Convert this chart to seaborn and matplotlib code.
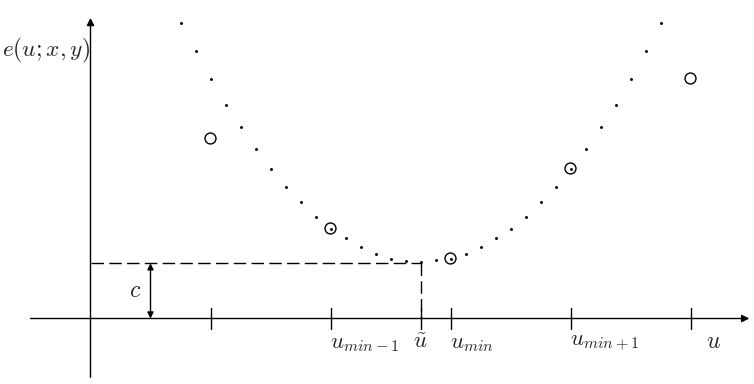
import matplotlib
matplotlib.use("Agg")
import matplotlib.pyplot as plt
import seaborn as sns
import pandas as pd

# ---- data (u in tick units, e in the same units) ----
curve_u = [0.750, 0.875, 1.000, 1.125, 1.250, 1.375, 1.500, 1.625, 1.750, 1.875,
           2.000, 2.125, 2.250, 2.375, 2.500, 2.625, 2.750, 2.875, 3.000, 3.125,
           3.250, 3.375, 3.500, 3.625, 3.750, 3.875, 4.000, 4.125, 4.250, 4.375,
           4.500, 4.625, 4.750]
curve_e = [2.46, 2.23, 2.00, 1.78, 1.60, 1.41, 1.25, 1.10, 0.97, 0.85,
           0.75, 0.67, 0.60, 0.54, 0.50, 0.48, 0.47, 0.49, 0.50, 0.54,
           0.60, 0.67, 0.75, 0.85, 0.97, 1.10, 1.25, 1.41, 1.60, 1.78,
           2.00, 2.23, 2.46]
sample_u = [2.0, 3.0, 4.0]
sample_e = [0.75, 0.50, 1.25]
obs_u = [1.0, 5.0]
obs_e = [1.50, 2.00]
tick_u = [1.0, 2.0, 2.75, 3.0, 4.0, 5.0]
label_u = [2.0, 2.75, 3.0, 4.0]
label_text = [r"$u_{min-1}$", r"$\tilde{u}$", r"$u_{min}$", r"$u_{min+1}$"]
label_ha = ["left", "center", "left", "left"]
u_tilde = 2.75
c_level = 0.46
c_arrow_u = 0.5

sns.set_theme(style="white")
plt.rcParams["mathtext.fontset"] = "cm"
plt.rcParams["font.family"] = ["DejaVu Sans"]

W, H = 754, 384
fig = plt.figure(figsize=(W / 100, H / 100), dpi=100)
ax = fig.add_axes([0, 0, 1, 1])
ox, oy, sc = 90.5, 318.5, 120.0

lw = 1.0
k = "black"
# axes with arrows
ax.annotate("", xy=(5.49, 0), xytext=(-0.5, 0),
            arrowprops=dict(arrowstyle="-|>", color=k, lw=lw, mutation_scale=11,
                            shrinkA=0, shrinkB=0))
ax.annotate("", xy=(0, 2.505), xytext=(0, -0.49),
            arrowprops=dict(arrowstyle="-|>", color=k, lw=lw, mutation_scale=11,
                            shrinkA=0, shrinkB=0))

# ticks
tick_half = 10.5 / sc
for t in tick_u:
    ax.plot([t, t], [-tick_half, tick_half], color=k, lw=lw)

# dashed guides
ax.plot([0, u_tilde], [c_level, c_level], color=k, lw=lw, dashes=(9.0, 3.8))
ax.plot([u_tilde, u_tilde], [c_level, 0], color=k, lw=lw, dashes=(9.0, 3.8))

# c arrow
ax.annotate("", xy=(c_arrow_u, c_level), xytext=(c_arrow_u, 0),
            arrowprops=dict(arrowstyle="<|-|>", color=k, lw=lw, mutation_scale=9,
                            shrinkA=0, shrinkB=0))
ax.text(c_arrow_u - 0.125, c_level / 2 + 0.01, r"$c$", ha="center", va="center",
        fontsize=17)

# data marks
df_curve = pd.DataFrame({"u": curve_u, "e": curve_e})
sns.scatterplot(data=df_curve, x="u", y="e", ax=ax, s=4.5, color=k, linewidth=0,
                legend=False)
df_s = pd.DataFrame({"u": sample_u, "e": sample_e})
sns.scatterplot(data=df_s, x="u", y="e", ax=ax, s=62, facecolor="none",
                edgecolor=k, linewidth=1.0, legend=False)
df_o = pd.DataFrame({"u": obs_u, "e": obs_e})
sns.scatterplot(data=df_o, x="u", y="e", ax=ax, s=62, facecolor="none",
                edgecolor=k, linewidth=1.0, legend=False)
ax.set_xlim(-ox / sc, (W - ox) / sc)
ax.set_ylim(-(H - oy) / sc, oy / sc)
ax.set_axis_off()

# labels
for u, t, ha in zip(label_u, label_text, label_ha):
    ax.text(u, -12 / sc, t, ha=ha, va="top", fontsize=16.5)
ax.text(5.19, -11 / sc, r"$u$", ha="center", va="top", fontsize=17)
fig.text(1.5 / W, 1 - 50 / H, r"$e(u;x,y)$", ha="left", va="center", fontsize=16.8)

fig.savefig("out.png", dpi=100)
